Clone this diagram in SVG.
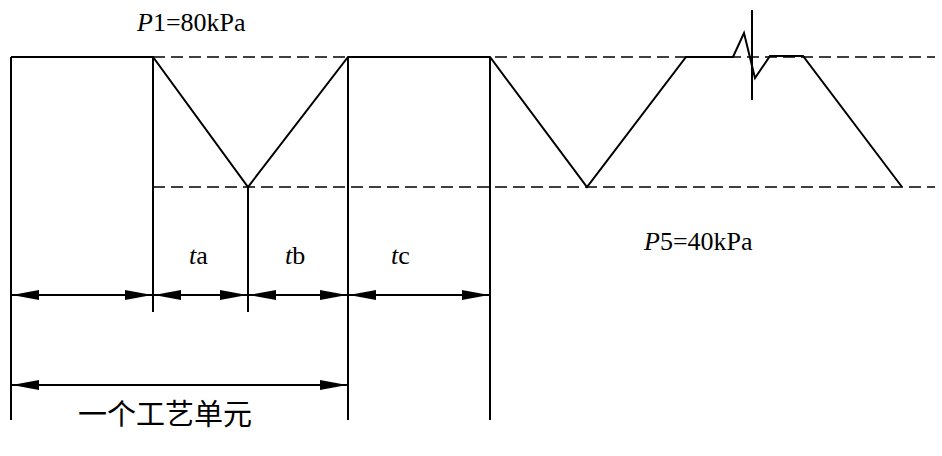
<svg xmlns="http://www.w3.org/2000/svg" width="942" height="456" viewBox="0 0 942 456">
<style>
.l{stroke:#000;stroke-width:2;fill:none}
.d{stroke:#000;stroke-width:1.6;fill:none;stroke-dasharray:12,6}
.t{font-family:"Liberation Serif","Noto Sans CJK SC",serif;font-size:26px;fill:#000}
.c{font-family:"Noto Sans CJK SC",serif;font-size:29px;fill:#000}
</style>
<defs>
<marker id="a" viewBox="0 0 27 10" refX="27" refY="5" markerWidth="27" markerHeight="10" markerUnits="userSpaceOnUse" orient="auto-start-reverse"><path d="M0,0L27,5L0,10Z" fill="#000"/></marker>
</defs>
<rect width="942" height="456" fill="#fff"/>
<g id="connectors">
<path class="d" d="M153,57H935M153,187H935"/>
<path class="l" d="M11,57H153L248,187L348,57H490L587,187L686,57H733L744,33L755,78L770,56H803L902,187"/>
<path class="l" d="M752,10V100"/>
<path class="l" d="M11,57V420M153,57V312M248,187V312M348,57V420M490,57V420"/>
<path class="l" marker-start="url(#a)" marker-end="url(#a)" d="M12,295H152"/>
<path class="l" marker-start="url(#a)" marker-end="url(#a)" d="M154,295H247"/>
<path class="l" marker-start="url(#a)" marker-end="url(#a)" d="M249,295H347"/>
<path class="l" marker-start="url(#a)" marker-end="url(#a)" d="M349,295H489"/>
<path class="l" marker-start="url(#a)" marker-end="url(#a)" d="M12,385H347"/>
</g>
<g id="labels">
<text class="t" x="137" y="31"><tspan font-style="italic">P</tspan>1=80kPa</text>
<text class="t" x="644" y="250"><tspan font-style="italic">P</tspan>5=40kPa</text>
<text class="t" x="189" y="264"><tspan font-style="italic">t</tspan>a</text>
<text class="t" x="285" y="264"><tspan font-style="italic">t</tspan>b</text>
<text class="t" x="391" y="264"><tspan font-style="italic">t</tspan>c</text>
<text class="c" x="78" y="425">一个工艺单元</text>
</g>
</svg>
